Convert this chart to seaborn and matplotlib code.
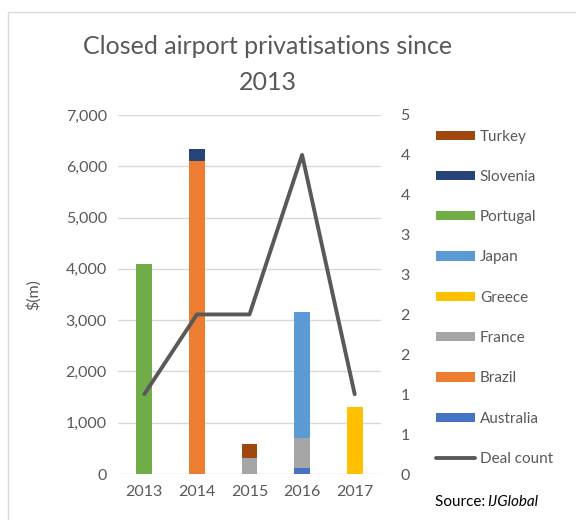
import matplotlib
matplotlib.use("Agg")
import matplotlib.pyplot as plt
import seaborn as sns
import numpy as np
import pandas as pd
from matplotlib.patches import Patch, Rectangle
from matplotlib.lines import Line2D

years = ["2013", "2014", "2015", "2016", "2017"]
australia = [0, 0, 0, 110, 0]
brazil = [0, 6100, 0, 0, 0]
france = [0, 0, 320, 600, 0]
greece = [0, 0, 0, 0, 1300]
japan = [0, 0, 0, 2455, 0]
portugal = [4100, 0, 0, 0, 0]
slovenia = [0, 230, 0, 0, 0]
turkey = [0, 0, 260, 0, 0]
deal_count = [1, 2, 2, 4, 1]

left_ticks = [0, 1000, 2000, 3000, 4000, 5000, 6000, 7000]
left_labels = ["0", "1,000", "2,000", "3,000", "4,000", "5,000", "6,000", "7,000"]
right_ticks = [0, 0.5, 1, 1.5, 2, 2.5, 3, 3.5, 4, 4.5]
right_labels = ["0", "1", "1", "2", "2", "3", "3", "4", "4", "5"]

series = [
    ("Australia", australia, "#4472C4"),
    ("Brazil", brazil, "#ED7D31"),
    ("France", france, "#A5A5A5"),
    ("Greece", greece, "#FFC000"),
    ("Japan", japan, "#5B9BD5"),
    ("Portugal", portugal, "#70AD47"),
    ("Slovenia", slovenia, "#264478"),
    ("Turkey", turkey, "#9E480E"),
]

sns.set_style("white")
plt.rcParams["font.family"] = ["Lato", "DejaVu Sans"]
txt = "#595959"

fig = plt.figure(figsize=(5.76, 5.2), dpi=100)
ax = fig.add_axes([118 / 576, 1 - 474 / 520, (381 - 118) / 576, (474 - 115) / 520])

bottom = np.zeros(len(years))
for name, vals, col in series:
    df = pd.DataFrame({"year": years, "value": vals})
    sns.barplot(data=df, x="year", y="value", color=col, width=0.3,
                bottom=bottom, ax=ax, saturation=1, edgecolor="none", linewidth=0, zorder=3)
    bottom = bottom + np.array(vals)

ax.set_ylim(0, 7000)
ax.set_xlim(-0.5, 4.5)
ax.set_yticks(left_ticks)
ax.set_yticklabels(left_labels)
ax.yaxis.grid(True, color="#D9D9D9", linewidth=1)
ax.set_axisbelow(True)
for s in ax.spines.values():
    s.set_visible(False)
ax.tick_params(axis="both", length=0, labelsize=11.5, colors=txt, pad=8)
ax.set_xlabel("")
ax.set_ylabel("$(m)", fontsize=11.5, color=txt, labelpad=18)

ax2 = ax.twinx()
dfl = pd.DataFrame({"year": years, "count": deal_count})
sns.lineplot(data=dfl, x="year", y="count", ax=ax2, color="#595959", linewidth=2.8, sort=False)
ax2.set_ylim(0, 4.5)
ax2.set_xlim(-0.5, 4.5)
ax2.set_yticks(right_ticks)
ax2.set_yticklabels(right_labels)
ax2.set_ylabel("")
for s in ax2.spines.values():
    s.set_visible(False)
ax2.tick_params(axis="both", length=0, labelsize=11.5, colors=txt, pad=14)

fig.text(268 / 576, 1 - 47 / 520, "Closed airport privatisations since", ha="center", va="center",
         fontsize=18, color=txt)
fig.text(268 / 576, 1 - 83 / 520, "2013", ha="center", va="center", fontsize=18, color=txt)

handles = []
labels = []
for name, vals, col in reversed(series):
    handles.append(Patch(facecolor=col, edgecolor="none"))
    labels.append(name)
handles.append(Line2D([0], [0], color="#595959", linewidth=2.8))
labels.append("Deal count")
leg = fig.legend(handles, labels, loc="upper left", bbox_to_anchor=(428 / 576, 1 - 122 / 520),
                 frameon=False, fontsize=11, labelspacing=1.72, handlelength=2.6,
                 handleheight=0.55, handletextpad=0.3, borderpad=0, labelcolor=txt)

fig.text(435 / 576, 1 - 502 / 520, "Source: ", ha="left", va="center", fontsize=11, color="#000000")
fig.text(487 / 576, 1 - 502 / 520, "IJGlobal", ha="left", va="center", fontsize=11,
         color="#000000", style="italic")

fig.patches.append(Rectangle((8 / 576, -0.05), 1.0, 1 - 12 / 520 + 0.05, transform=fig.transFigure,
                             fill=False, edgecolor="#D9D9D9", linewidth=1))

fig.savefig("out.png", dpi=100)
